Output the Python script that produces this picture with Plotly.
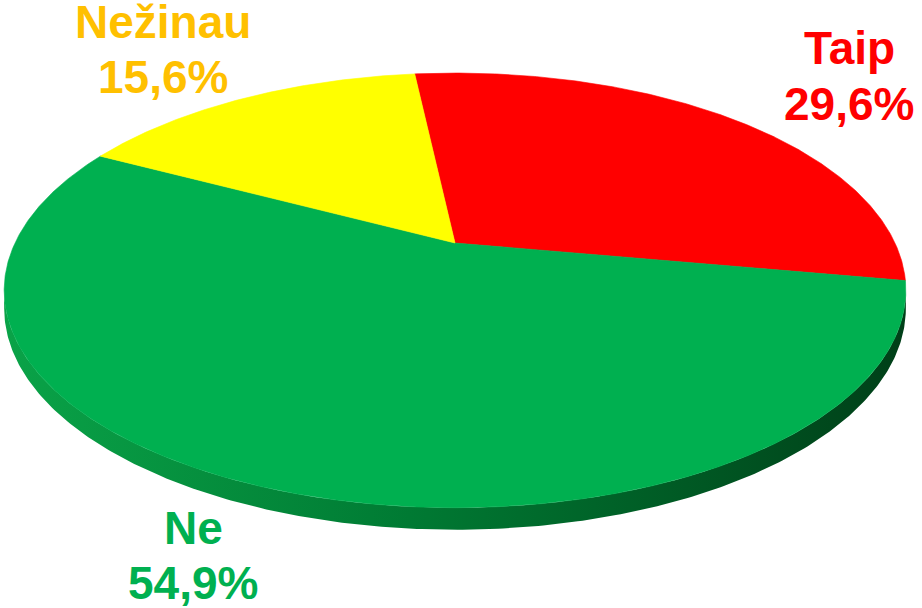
import numpy as np
import plotly.graph_objects as go

# ---- data ----
labels = ["Taip", "Ne", "Nežinau"]
values = [29.6, 54.9, 15.6]
slice_colors = ["#FF0000", "#00B050", "#FFFF00"]
label_colors = ["#FF0000", "#00B050", "#FFC000"]

# ---- geometry (pixel space of the 922x608 canvas) ----
W, H = 922, 608
cx, cy = 455.0, 243.0        # apex (pie centre) on screen
a, b, k = 440.0, 207.0, 0.218  # perspective ellipse parameters
thick = 17.2                 # side thickness
start_deg = 96.4             # first slice starts here, goes clockwise


def proj(theta_deg, drop=0.0):
    t = np.radians(theta_deg)
    X, Z = np.cos(t), np.sin(t)
    den = 1 + k * Z
    px = cx + a * X / den
    py = cy - b * Z / den + drop / den
    return px, py


fig = go.Figure()

# side band (front part of the cylinder)
thR = -np.degrees(np.arcsin(k))
thL = -180 + np.degrees(np.arcsin(k))
t1 = np.linspace(thR, thL, 300)
t2 = np.linspace(thL, thR, 300)
x1, y1 = proj(t1)
x2, y2 = proj(t2, thick)
fig.add_trace(go.Scatter(
    x=np.concatenate([x1, x2]), y=np.concatenate([y1, y2]),
    mode="lines", fill="toself", line=dict(width=0),
    fillgradient=dict(type="horizontal",
                      colorscale=[[0, "#0AA348"], [0.45, "#007A33"], [1, "#003F18"]]),
    hoverinfo="skip", showlegend=False))

# top face slices
total = sum(values)
ang = start_deg
for lab, val, col in zip(labels, values, slice_colors):
    span = val / total * 360.0
    ts = np.linspace(ang, ang - span, max(int(span * 3), 10))
    xs, ys = proj(ts)
    fig.add_trace(go.Scatter(
        x=np.concatenate([[cx], xs, [cx]]), y=np.concatenate([[cy], ys, [cy]]),
        mode="lines", fill="toself", fillcolor=col, line=dict(width=0.6, color=col),
        name=lab, hoverinfo="skip", showlegend=False))
    ang -= span

# labels (two lines each)
label_pos = {"Taip": (849, 48, 104), "Ne": (193, 528, 583), "Nežinau": (163, 22, 77)}
for lab, val, col in zip(labels, values, label_colors):
    x, yl1, yl2 = label_pos[lab]
    pct = f"{val:.1f}%".replace(".", ",")
    for txt, yy in ((lab, yl1), (pct, yl2)):
        fig.add_annotation(x=x, y=yy, text=f"<b>{txt}</b>", showarrow=False,
                           xanchor="center", yanchor="middle",
                           font=dict(family="Liberation Sans, Arial", size=46, color=col))

fig.update_layout(
    width=W, height=H, margin=dict(l=0, r=0, t=0, b=0),
    paper_bgcolor="white", plot_bgcolor="white",
    xaxis=dict(range=[0, W], visible=False, fixedrange=True),
    yaxis=dict(range=[H, 0], visible=False, fixedrange=True),
)
fig.write_html("out.html", config={"displayModeBar": False},
               post_script="document.body.style.margin='0';document.body.style.overflow='hidden';")
